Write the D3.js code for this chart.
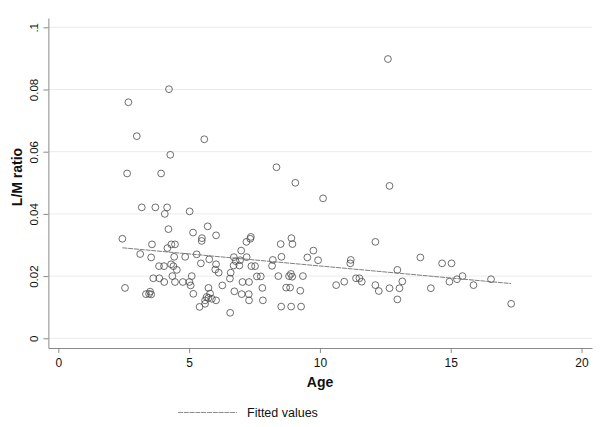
<!DOCTYPE html>
<html>
<head>
<meta charset="utf-8">
<script src="https://cdn.jsdelivr.net/npm/d3@7"></script>
<style>
  html, body { margin: 0; padding: 0; background: #fff; }
  svg { display: block; }
  text { font-family: Arial, "Liberation Sans", sans-serif; fill: #111; }
</style>
</head>
<body>
<svg id="chart" width="601" height="427"></svg>
<script>
// ---- data ----
const ages = [
  2.45, 2.55, 2.63, 2.68, 3.00, 3.13, 3.19, 3.35, 3.47, 3.51,
  3.55, 3.55, 3.58, 3.63, 3.71, 3.85, 3.86, 3.93, 4.04, 4.05,
  4.07, 4.16, 4.17, 4.21, 4.23, 4.28, 4.31, 4.32, 4.36, 4.40,
  4.43, 4.46, 4.46, 4.53, 4.76, 4.85, 5.01, 5.02, 5.06, 5.10,
  5.15, 5.16, 5.29, 5.40, 5.45, 5.48, 5.49, 5.58, 5.61, 5.61,
  5.67, 5.71, 5.74, 5.74, 5.77, 5.80, 5.87, 6.03, 6.03, 6.03,
  6.00, 6.13, 6.27, 6.56, 6.57, 6.59, 6.71, 6.73, 6.78, 6.70,
  6.95, 6.92, 6.99, 7.01, 7.04, 7.19, 7.20, 7.29, 7.28, 7.29,
  7.34, 7.36, 7.38, 7.52, 7.59, 7.74, 7.80, 7.82, 8.17, 8.20,
  8.34, 8.41, 8.50, 8.52, 8.53, 8.71, 8.82, 8.86, 8.89, 8.90,
  8.91, 8.94, 8.95, 9.06, 9.25, 9.28, 9.35, 9.52, 9.75, 9.93,
  10.12, 10.62, 10.93, 11.16, 11.18, 11.38, 11.51, 11.60, 12.12, 12.12,
  12.25, 12.60, 12.66, 12.66, 12.96, 12.96, 13.04, 13.15, 13.84, 14.24,
  14.67, 14.95, 15.03, 15.24, 15.45, 15.87, 16.54, 17.31
];
const lmRatios = [
  0.0320, 0.0162, 0.0530, 0.0759, 0.0650, 0.0271, 0.0421, 0.0142, 0.0143, 0.0150,
  0.0141, 0.0260, 0.0302, 0.0193, 0.0421, 0.0232, 0.0193, 0.0530, 0.0232, 0.0181,
  0.0400, 0.0421, 0.0290, 0.0351, 0.0801, 0.0590, 0.0238, 0.0302, 0.0200, 0.0232,
  0.0262, 0.0302, 0.0181, 0.0220, 0.0181, 0.0262, 0.0181, 0.0408, 0.0170, 0.0200,
  0.0340, 0.0143, 0.0270, 0.0101, 0.0241, 0.0313, 0.0322, 0.0640, 0.0111, 0.0122,
  0.0133, 0.0360, 0.0162, 0.0130, 0.0254, 0.0144, 0.0127, 0.0331, 0.0238, 0.0122,
  0.0221, 0.0211, 0.0170, 0.0192, 0.0082, 0.0211, 0.0261, 0.0151, 0.0248, 0.0234,
  0.0251, 0.0234, 0.0282, 0.0142, 0.0181, 0.0310, 0.0261, 0.0181, 0.0142, 0.0122,
  0.0320, 0.0326, 0.0232, 0.0232, 0.0199, 0.0199, 0.0162, 0.0122, 0.0233, 0.0252,
  0.0550, 0.0200, 0.0303, 0.0102, 0.0262, 0.0163, 0.0200, 0.0163, 0.0207, 0.0102,
  0.0322, 0.0198, 0.0303, 0.0500, 0.0153, 0.0102, 0.0200, 0.0260, 0.0282, 0.0251,
  0.0450, 0.0171, 0.0182, 0.0241, 0.0252, 0.0193, 0.0193, 0.0182, 0.0310, 0.0171,
  0.0152, 0.0898, 0.0490, 0.0161, 0.0220, 0.0125, 0.0161, 0.0183, 0.0260, 0.0161,
  0.0241, 0.0182, 0.0241, 0.0190, 0.0200, 0.0171, 0.0190, 0.0111
];
// fitted values (linear fit) at the ends of the age range
const fitAges = [2.45, 17.31];
const fitValues = [0.0291, 0.0176];

const xTicks = [0, 5, 10, 15, 20];
const yTicks = [0, 0.02, 0.04, 0.06, 0.08, 0.1];
const yTickLabels = ["0", "0.02", "0.04", "0.06", "0.08", ".1"];

// ---- layout ----
const svg = d3.select("#chart");
const x = d3.scaleLinear().domain([-0.38, 20.40]).range([48.36, 592.0]);
const y = d3.scaleLinear().domain([-0.00312, 0.10299]).range([348, 18]);

svg.append("rect").attr("width", 601).attr("height", 427).attr("fill", "#fff");

// gridlines
svg.append("g").selectAll("line").data(yTicks).join("line")
  .attr("x1", x.range()[0]).attr("x2", x.range()[1])
  .attr("y1", d => y(d)).attr("y2", d => y(d))
  .attr("stroke", "#ebebeb").attr("stroke-width", 1);

// x axis
const gx = svg.append("g").attr("transform", `translate(0,${y.range()[0]})`)
  .call(d3.axisBottom(x).tickValues(xTicks).tickFormat(d3.format("d")).tickSize(5).tickSizeOuter(0).tickPadding(5));
gx.select(".domain").attr("stroke", "#8a8a8a");
gx.selectAll(".tick line").attr("stroke", "#8a8a8a");
gx.selectAll(".tick text").attr("font-size", 12).attr("fill", "#111")
  .style("font-family", "Arial, 'Liberation Sans', sans-serif");

// y axis
const gy = svg.append("g").attr("transform", `translate(${x.range()[0]},0)`)
  .call(d3.axisLeft(y).tickValues(yTicks).tickFormat((d, i) => yTickLabels[i]).tickSize(5).tickSizeOuter(0));
gy.select(".domain").attr("stroke", "#8a8a8a");
gy.selectAll(".tick line").attr("stroke", "#8a8a8a");
gy.selectAll(".tick text")
  .attr("x", 0).attr("y", -10).attr("dy", 0)
  .attr("transform", "rotate(-90)")
  .attr("text-anchor", "middle")
  .attr("font-size", 11.5).attr("fill", "#111")
  .style("font-family", "Arial, 'Liberation Sans', sans-serif");

// axis titles
svg.append("text").attr("x", 320).attr("y", 387)
  .attr("text-anchor", "middle").attr("font-size", 14).attr("font-weight", "bold")
  .text("Age");
svg.append("text")
  .attr("transform", `translate(22,${177}) rotate(-90)`)
  .attr("text-anchor", "middle").attr("font-size", 14).attr("font-weight", "bold")
  .text("L/M ratio");

// points
svg.append("g").selectAll("circle").data(ages).join("circle")
  .attr("cx", d => x(d)).attr("cy", (d, i) => y(lmRatios[i]))
  .attr("r", 3.4)
  .attr("fill", "none").attr("stroke", "#4a4a4a").attr("stroke-width", 0.8);

// fitted line
const line = d3.line().x(d => x(d[0])).y(d => y(d[1]));
svg.append("path")
  .datum(fitAges.map((a, i) => [a, fitValues[i]]))
  .attr("d", line)
  .attr("fill", "none").attr("stroke", "#707070").attr("stroke-width", 0.9)
  .attr("stroke-dasharray", "5,0.8");

// legend
svg.append("line").attr("x1", 178).attr("x2", 237).attr("y1", 412.5).attr("y2", 412.5)
  .attr("stroke", "#808080").attr("stroke-width", 0.9).attr("stroke-dasharray", "5,0.8");
svg.append("text").attr("x", 247).attr("y", 417).attr("font-size", 12.5)
  .text("Fitted values");
</script>
</body>
</html>
